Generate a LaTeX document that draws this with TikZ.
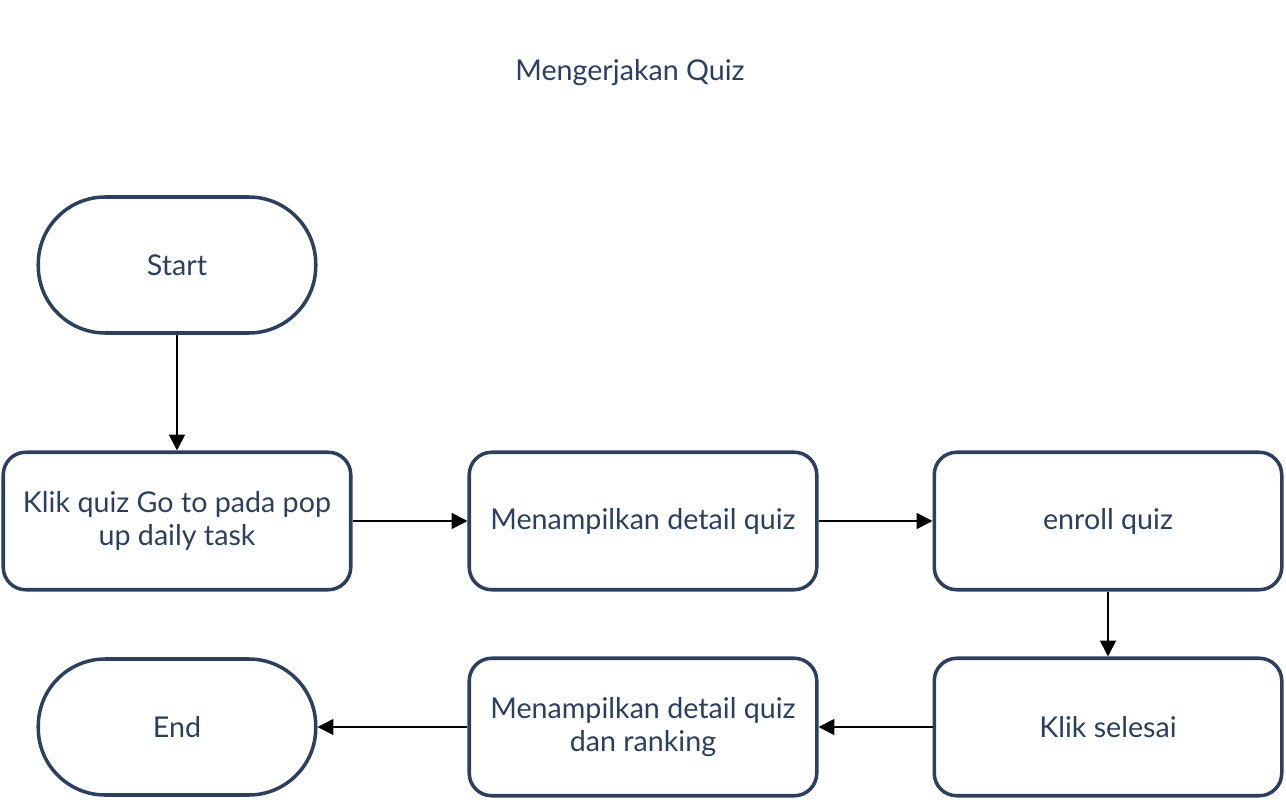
\documentclass[tikz,border=0pt]{standalone}
\usepackage{fontspec}
\setmainfont{Lato}
\usepackage{tikz}
\usetikzlibrary{positioning, arrows.meta}
\definecolor{navy}{HTML}{2C3F5C}
\tikzstyle{term}=[draw=navy, line width=2pt, rounded corners=1.34cm, minimum width=5.55cm, minimum height=2.72cm, text=navy, font=\fontsize{16.3}{18.5}\selectfont]
\tikzstyle{proc}=[draw=navy, line width=2pt, rounded corners=0.45cm, minimum width=6.95cm, minimum height=2.75cm, text=navy, align=center, font=\fontsize{16.3}{18.5}\selectfont]
\tikzset{>={Triangle[length=9pt, width=9pt]}}

\begin{document}
\begin{tikzpicture}
\useasboundingbox (0,0) rectangle (25.72,-16);
% the title
\node[text=navy, font=\fontsize{16.3}{18.5}\selectfont] (T) at (12.6, -1.46) {Mengerjakan Quiz};
% the start and end
\node[term] (S) at (3.54, -5.3) {Start};
\node[term] (E) at (3.54, -14.54) {End};
% the steps
\node[proc] (P1) at (3.54, -10.42) {Klik quiz Go to pada pop\\up daily task};
\node[proc] (P2) at (12.86, -10.42) {Menampilkan detail quiz};
\node[proc] (P3) at (22.16, -10.42) {enroll quiz};
\node[proc] (P4) at (22.16, -14.54) {Klik selesai};
\node[proc] (P5) at (12.86, -14.54) {Menampilkan detail quiz\\dan ranking};
% the arrows
\draw[->, line width=1pt] (S) -- (P1);
\draw[->, line width=1pt] (P1) -- (P2);
\draw[->, line width=1pt] (P2) -- (P3);
\draw[->, line width=1pt] (P3) -- (P4);
\draw[->, line width=1pt] (P4) -- (P5);
\draw[->, line width=1pt] (P5) -- (E);
\end{tikzpicture}
\end{document}
